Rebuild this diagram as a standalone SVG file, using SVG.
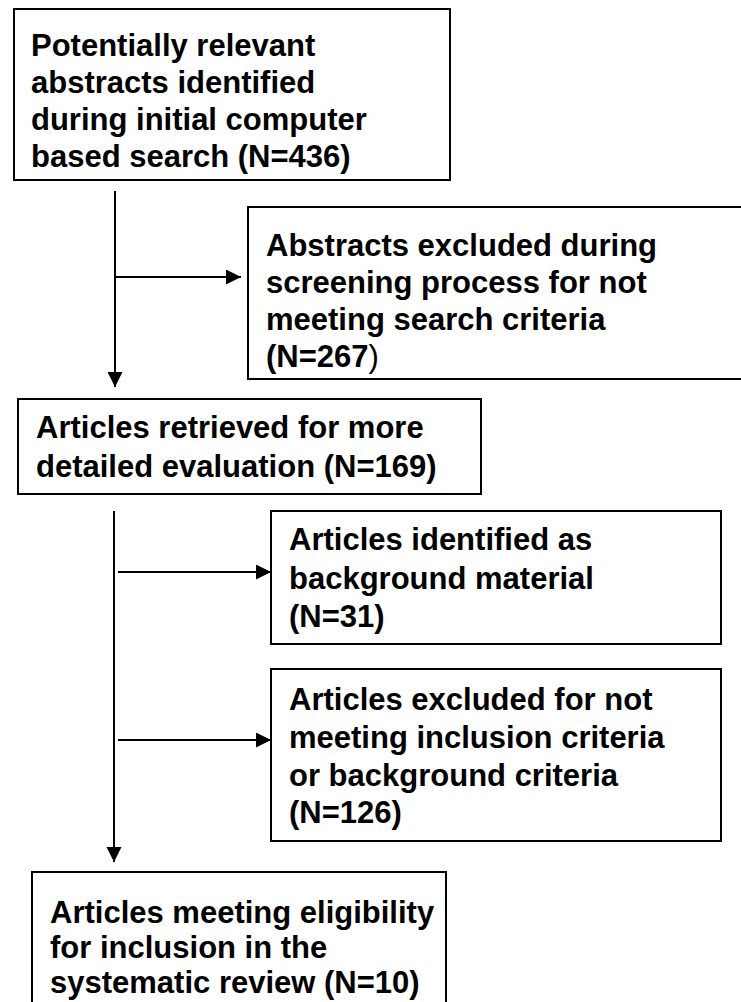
<svg xmlns="http://www.w3.org/2000/svg" width="741" height="1002" viewBox="0 0 741 1002">
<style>
.box{fill:#fff;stroke:#000;stroke-width:2}
.t{font-family:"Liberation Sans",Arial,sans-serif;font-weight:bold;font-size:31px;fill:#000}
.c{fill:none;stroke:#000;stroke-width:2}
</style>
<defs>
<marker id="ah" markerUnits="userSpaceOnUse" markerWidth="16" markerHeight="16" refX="15" refY="7.5" orient="auto">
<path d="M0,0 L15,7.5 L0,15 Z" fill="#000"/>
</marker>
</defs>
<rect width="741" height="1002" fill="#fff"/>
<g id="n1">
<rect class="box" x="14" y="9" width="436" height="171"/>
<text class="t" x="31" y="56">Potentially relevant</text>
<text class="t" x="31" y="93">abstracts identified</text>
<text class="t" x="31" y="130">during initial computer</text>
<text class="t" x="31" y="167">based search (N=436)</text>
</g>
<g id="n2">
<rect class="box" x="248" y="207" width="500" height="172"/>
<text class="t" x="266" y="256">Abstracts excluded during</text>
<text class="t" x="266" y="293">screening process for not</text>
<text class="t" x="266" y="330">meeting search criteria</text>
<text class="t" x="266" y="367">(N=267<tspan font-weight="normal">)</tspan></text>
</g>
<g id="n3">
<rect class="box" x="18" y="399" width="463" height="95"/>
<text class="t" x="36" y="438">Articles retrieved for more</text>
<text class="t" x="36" y="477">detailed evaluation (N=169)</text>
</g>
<g id="n4">
<rect class="box" x="271" y="511" width="450" height="133"/>
<text class="t" x="289" y="550">Articles identified as</text>
<text class="t" x="289" y="589">background material</text>
<text class="t" x="289" y="627">(N=31)</text>
</g>
<g id="n5">
<rect class="box" x="271" y="669" width="450" height="172"/>
<text class="t" x="289" y="710">Articles excluded for not</text>
<text class="t" x="289" y="748">meeting inclusion criteria</text>
<text class="t" x="289" y="786">or background criteria</text>
<text class="t" x="289" y="823">(N=126)</text>
</g>
<g id="n6">
<rect class="box" x="32" y="872" width="414" height="140"/>
<text class="t" x="50" y="923">Articles meeting eligibility</text>
<text class="t" x="50" y="958">for inclusion in the</text>
<text class="t" x="50" y="993">systematic review (N=10)</text>
</g>
<g id="connectors">
<line class="c" x1="115" y1="191" x2="115" y2="387" marker-end="url(#ah)"/>
<line class="c" x1="115" y1="277" x2="241" y2="277" marker-end="url(#ah)"/>
<line class="c" x1="114" y1="511" x2="114" y2="862" marker-end="url(#ah)"/>
<line class="c" x1="118" y1="572" x2="271" y2="572" marker-end="url(#ah)"/>
<line class="c" x1="118" y1="740" x2="271" y2="740" marker-end="url(#ah)"/>
</g>
</svg>
